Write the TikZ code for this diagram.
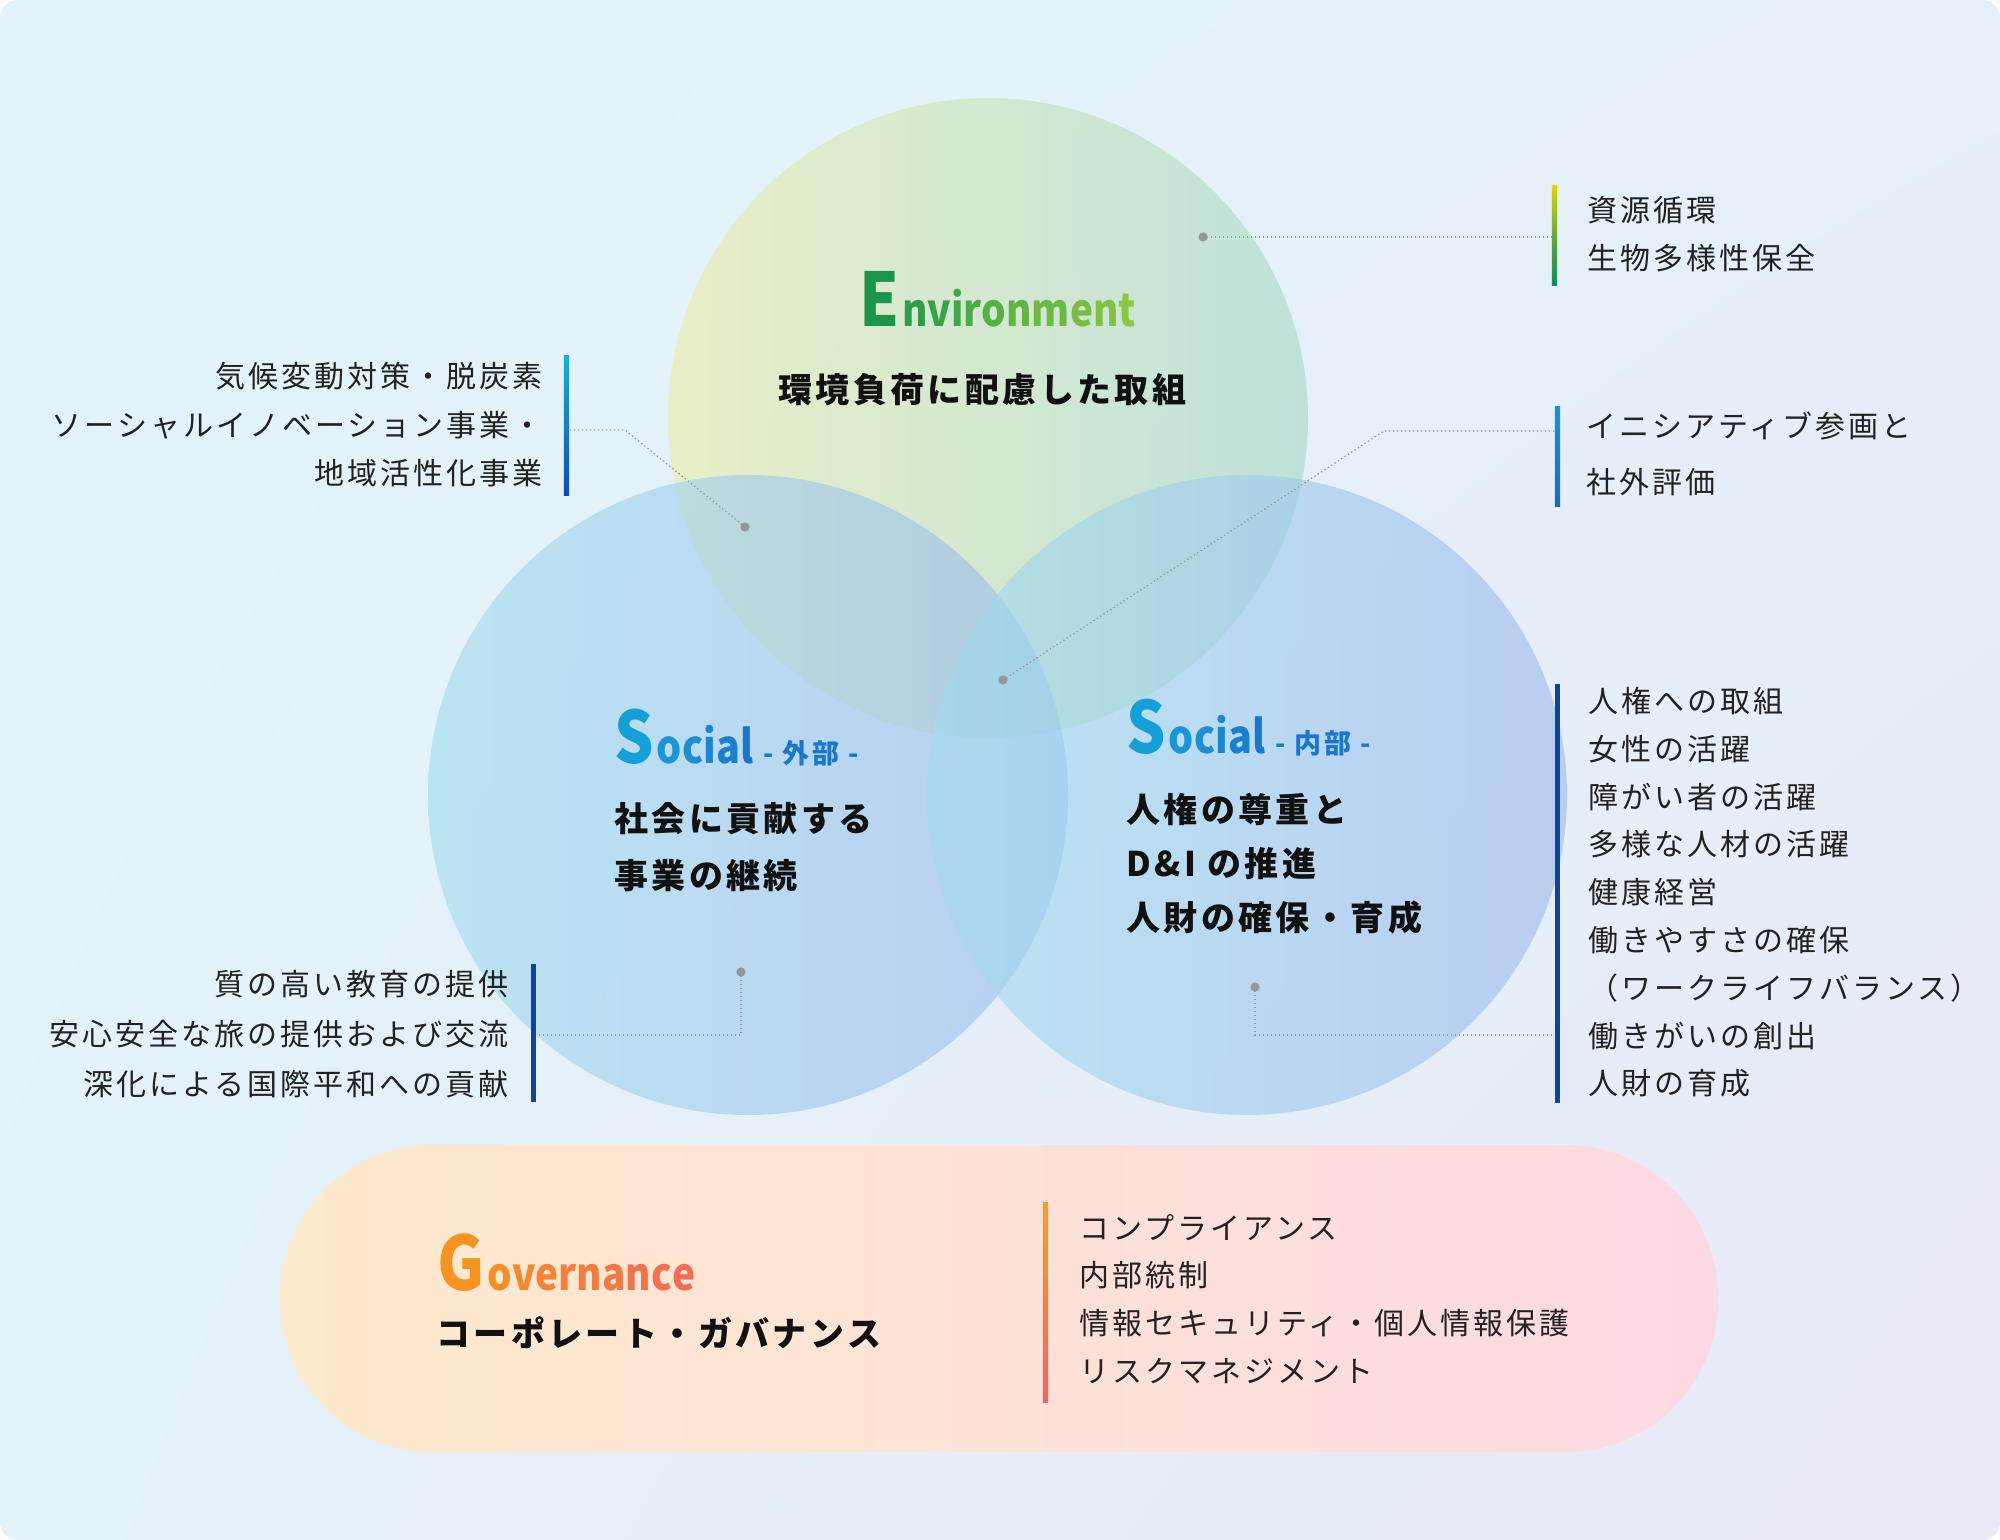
\documentclass[tikz,border=0pt]{standalone}
\usepackage{fontspec}
\usetikzlibrary{shadings}
\newfontfamily\jp{Noto Sans CJK JP}[LetterSpace=10]
\newfontfamily\jplat{Noto Sans CJK JP}[FakeStretch=0.86]
\definecolor{bgTL}{RGB}{226,244,250}
\definecolor{bgTR}{RGB}{230,240,249}
\definecolor{bgBL}{RGB}{228,242,250}
\definecolor{bgBR}{RGB}{232,234,247}
\definecolor{envL}{RGB}{236,238,165}
\definecolor{envR}{RGB}{165,216,198}
\definecolor{socL}{RGB}{160,220,238}
\definecolor{socR}{RGB}{155,185,236}
\definecolor{pillL}{RGB}{254,234,204}
\definecolor{pillM}{RGB}{253,226,214}
\definecolor{pillR}{RGB}{253,218,227}
\definecolor{txt}{RGB}{34,34,34}
\definecolor{ink}{RGB}{17,17,17}
\definecolor{conn}{RGB}{150,150,150}
\definecolor{envE}{RGB}{28,150,78}
\definecolor{envA}{RGB}{45,158,75}
\definecolor{envB}{RGB}{141,198,63}
\definecolor{socS}{RGB}{18,160,214}
\definecolor{socA}{RGB}{26,150,212}
\definecolor{socB}{RGB}{26,120,204}
\definecolor{govG}{RGB}{247,147,30}
\definecolor{govA}{RGB}{247,140,40}
\definecolor{govB}{RGB}{242,108,88}
\definecolor{barY}{RGB}{222,214,10}
\definecolor{barG}{RGB}{16,140,92}
\definecolor{barC}{RGB}{24,178,210}
\definecolor{barB}{RGB}{16,72,192}
\definecolor{barI}{RGB}{24,148,212}
\definecolor{barJ}{RGB}{16,110,200}
\definecolor{barD}{RGB}{14,68,158}
\definecolor{barO}{RGB}{247,162,30}
\definecolor{barR}{RGB}{240,100,100}
\newcommand\gc[4]{{\color{#2!#3!#1}#4}}
\tikzset{
  lst/.style={inner sep=0pt, text=txt, font=\jp\fontsize{15pt}{18pt}\selectfont, text height=13.2pt, text depth=1.8pt},
  subt/.style={inner sep=0pt, text=ink, font=\jp\bfseries\fontsize{17pt}{20pt}\selectfont, text height=14.96pt, text depth=2.04pt, anchor=west},
  ttl/.style={inner sep=0pt, font=\jplat\bfseries, anchor=base west},
  dotn/.style={circle, fill=conn, inner sep=0pt, minimum size=4.6pt},
  barn/.style={rectangle, inner sep=0pt, minimum width=2.6pt},
  conline/.style={draw=conn, line width=0.6pt, dash pattern=on 0.7pt off 1.3pt},
}
\begin{document}
\begin{tikzpicture}[x=0.5pt,y=-0.5pt]
\useasboundingbox (0,0) rectangle (2000,1540);
\fill[white] (0,0) rectangle (2000,1540);
\shade[upper left=bgTL, upper right=bgTR, lower left=bgBL, lower right=bgBR, rounded corners=9pt] (0,0) rectangle (2000,1540);

% circles
\shade[left color=envL, right color=envR, fill opacity=0.6] (988,418) circle[radius=160pt];
\shade[left color=socL, right color=socR, fill opacity=0.6] (748,795) circle[radius=160pt];
\shade[left color=socL, right color=socR, fill opacity=0.6] (1247,795) circle[radius=160pt];

% governance pill
\shade[left color=pillL, middle color=pillM, right color=pillR, rounded corners=76pt] (280,1145) rectangle (1718,1452);

% bars
\node[barn, minimum height=50pt, top color=barY, bottom color=barG, middle color=barG!60!barY] (benv) at (1554.5,236) {};
\node[barn, minimum height=69.5pt, top color=barC, bottom color=barB] (bclim) at (566.5,425.5) {};
\node[barn, minimum height=50pt, top color=barI, bottom color=barJ] (bini) at (1557.5,456) {};
\node[barn, minimum height=69pt, fill=barD] (bedu) at (533.5,1033) {};
\node[barn, minimum height=209.5pt, fill=barD] (bhum) at (1557.5,893.5) {};
\node[barn, minimum height=100pt, top color=barO, bottom color=barR] (bgov) at (1045.5,1302) {};

% dots
\node[dotn] (denv) at (1203,237) {};
\node[dotn] (dclim) at (745,527) {};
\node[dotn] (dini) at (1003,680) {};
\node[dotn] (dedu) at (741,972) {};
\node[dotn] (dhum) at (1255,987) {};

% connectors
\draw[conline] (denv.center) -- (denv.center -| benv.west);
\coordinate (kc) at (625,430);
\draw[conline] (dclim.center) -- (kc) -- (kc -| bclim.east);
\coordinate (ki) at (1384,431);
\draw[conline] (dini.center) -- (ki) -- (ki -| bini.west);
\coordinate (ke) at (741,1035);
\draw[conline] (dedu.center) -- (ke) -- (ke -| bedu.east);
\coordinate (kh) at (1255,1035);
\draw[conline] (dhum.center) -- (kh) -- (kh -| bhum.west);

% Environment
\node[ttl] (envT) at (859,327) {\fontsize{37pt}{40pt}\selectfont\color{envE}E\kern1.5pt\fontsize{22.5pt}{26pt}\selectfont\gc{envA}{envB}{0}{n}\gc{envA}{envB}{11}{v}\gc{envA}{envB}{22}{i}\gc{envA}{envB}{33}{r}\gc{envA}{envB}{44}{o}\gc{envA}{envB}{56}{n}\gc{envA}{envB}{67}{m}\gc{envA}{envB}{78}{e}\gc{envA}{envB}{89}{n}\gc{envA}{envB}{100}{t}};
\node[subt] (envS) at (778,390) {環境負荷に配慮した取組};

% Social external
\node[ttl] (slT) at (614,763) {\fontsize{36pt}{40pt}\selectfont\color{socS}S\kern1.5pt\fontsize{23pt}{26pt}\selectfont\gc{socA}{socB}{0}{o}\gc{socA}{socB}{25}{c}\gc{socA}{socB}{50}{i}\gc{socA}{socB}{75}{a}\gc{socA}{socB}{100}{l}\hspace{5pt}{\color{socB}\jp\bfseries\fontsize{13.5pt}{16pt}\selectfont - 外部 -}};
\node[subt] (sl1) at (614,819) {社会に貢献する};
\node[subt] (sl2) at (614,876) {事業の継続};

% Social internal
\node[ttl] (srT) at (1126,753) {\fontsize{36pt}{40pt}\selectfont\color{socS}S\kern1.5pt\fontsize{23pt}{26pt}\selectfont\gc{socA}{socB}{0}{o}\gc{socA}{socB}{25}{c}\gc{socA}{socB}{50}{i}\gc{socA}{socB}{75}{a}\gc{socA}{socB}{100}{l}\hspace{5pt}{\color{socB}\jp\bfseries\fontsize{13.5pt}{16pt}\selectfont - 内部 -}};
\node[subt] (sr1) at (1126,810) {人権の尊重と};
\node[subt] (sr2) at (1126,864) {D\&I の推進};
\node[subt] (sr3) at (1126,918) {人財の確保・育成};

% Governance
\node[ttl] (gT) at (437,1290) {\fontsize{37.5pt}{40pt}\selectfont\color{govG}G\kern1.5pt\fontsize{22.5pt}{26pt}\selectfont\gc{govA}{govB}{0}{o}\gc{govA}{govB}{12}{v}\gc{govA}{govB}{25}{e}\gc{govA}{govB}{37}{r}\gc{govA}{govB}{50}{n}\gc{govA}{govB}{62}{a}\gc{govA}{govB}{75}{n}\gc{govA}{govB}{87}{c}\gc{govA}{govB}{100}{e}};
\node[subt] (gS) at (436,1334) {コーポレート・ガバナンス};

% lists
\node[lst, anchor=west] (le1) at (1587,210) {資源循環};
\node[lst, anchor=west] (le2) at (1587,258) {生物多様性保全};
\node[lst, anchor=west] (li1) at (1586,426) {イニシアティブ参画と};
\node[lst, anchor=west] (li2) at (1586,482) {社外評価};
\node[lst, anchor=east] (lc1) at (543,376) {気候変動対策・脱炭素};
\node[lst, anchor=east] (lc2) at (543,425) {ソーシャルイノベーション事業・};
\node[lst, anchor=east] (lc3) at (543,473) {地域活性化事業};
\node[lst, anchor=east] (ld1) at (509,984) {質の高い教育の提供};
\node[lst, anchor=east] (ld2) at (509,1034) {安心安全な旅の提供および交流};
\node[lst, anchor=east] (ld3) at (509,1084) {深化による国際平和への貢献};
\node[lst, anchor=west] (lh1) at (1588,701) {人権への取組};
\node[lst, anchor=west] (lh2) at (1588,749) {女性の活躍};
\node[lst, anchor=west] (lh3) at (1588,797) {障がい者の活躍};
\node[lst, anchor=west] (lh4) at (1588,844) {多様な人材の活躍};
\node[lst, anchor=west] (lh5) at (1588,892) {健康経営};
\node[lst, anchor=west] (lh6) at (1588,940) {働きやすさの確保};
\node[lst, anchor=west] (lh7) at (1588,988) {（ワークライフバランス）};
\node[lst, anchor=west] (lh8) at (1588,1036) {働きがいの創出};
\node[lst, anchor=west] (lh9) at (1588,1083) {人財の育成};
\node[lst, anchor=west] (lg1) at (1079,1228) {コンプライアンス};
\node[lst, anchor=west] (lg2) at (1079,1275) {内部統制};
\node[lst, anchor=west] (lg3) at (1079,1323) {情報セキュリティ・個人情報保護};
\node[lst, anchor=west] (lg4) at (1079,1371) {リスクマネジメント};
\end{tikzpicture}
\end{document}
